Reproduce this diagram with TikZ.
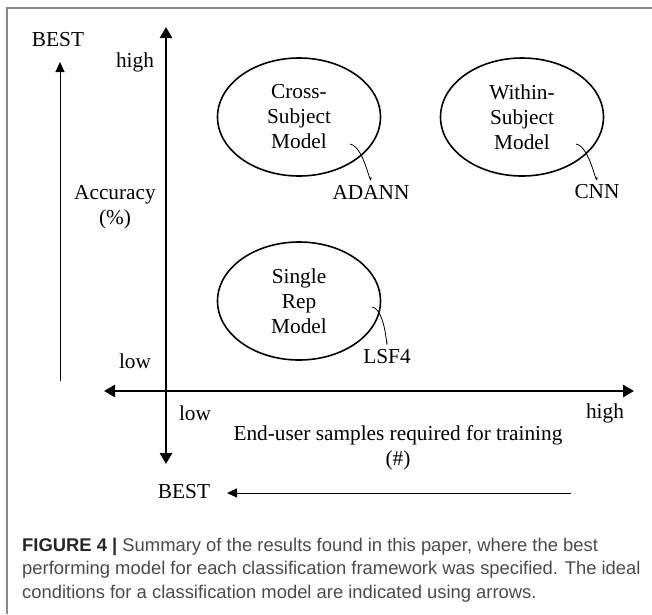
\documentclass[tikz,border=0pt]{standalone}
\usepackage{fontspec}
\setmainfont{Liberation Serif}
\newfontfamily\capfont{Liberation Sans}
\usetikzlibrary{arrows.meta,calc,shapes.geometric}
\definecolor{capgray}{HTML}{4A4A4A}
\definecolor{framegray}{HTML}{8A8A8A}

\begin{document}
\begin{tikzpicture}[
    x=1pt, y=-1pt,
    txt/.style={font=\fontsize{21.3}{25}\selectfont, align=center, inner sep=0},
    model/.style={ellipse, draw, line width=1.6pt, minimum width=163pt, minimum height=118pt, txt},
    axis/.style={line width=2.6pt, {Triangle[length=11pt,width=12pt]}-{Triangle[length=11pt,width=12pt]}},
    bestarrow/.style={line width=1pt, -{Triangle[length=10pt,width=9pt]}},
    link/.style={line width=0.8pt}]
\useasboundingbox (0,0) rectangle (652,614);
\draw[framegray, line width=1.2pt] (7,614) -- (7,8) -- (652,8);

% axes
\draw[axis] (166,464) -- (166,27);
\draw[axis] (104,391) -- (634,391);

% axis labels
\node[txt] (yhigh) at (135,62) {high};
\node[txt] (ylow) at (135,361) {low};
\node[txt] (xlow) at (195,413) {low};
\node[txt] (xhigh) at (605,413) {high};
\node[txt] (ylabel) at (115,207) {Accuracy\\(\%)};
\node[txt] (xlabel) at (398,448) {End-user samples required for training\\(\#)};

% best directions
\node[txt] (besty) at (58,40) {BEST};
\node[txt] (bestx) at (184,492) {BEST};
\coordinate (ytail) at (60,381);
\coordinate (xtail) at (571,493);
\draw[bestarrow] (ytail) -- (60,62) coordinate (yhead);
\draw[bestarrow] (xtail) -- (227,493) coordinate (xhead);

% models
\node[model] (cross) at (299,117) {Cross-\\Subject\\Model};
\node[model] (within) at (522,117) {Within-\\Subject\\Model};
\node[model] (single) at (299,301) {Single\\Rep\\Model};

\node[txt] (adann) at (371,192) {ADANN};
\node[txt] (cnn) at (597,192) {CNN};
\node[txt] (lsf) at (387,357) {LSF4};

\coordinate (crossin) at ($(cross.center)+(51,27)$);
\coordinate (withinin) at ($(within.center)+(54,27)$);
\coordinate (singlein) at ($(single.center)+(73,6)$);
\draw[link] (crossin) to[out=-10,in=-90] ([yshift=8pt]adann.north);
\draw[link] (withinin) to[out=-10,in=-90] ([yshift=8pt]cnn.north);
\draw[link] (singlein) to[out=-10,in=-90] ([yshift=8pt]lsf.north);

% caption
\node[anchor=north west, inner sep=0, align=left, text=capgray,
      font=\capfont\fontsize{18.4}{23.3}\selectfont] (caption) at (22,538)
  {{\bfseries\color{black!85}FIGURE 4 |} Summary of the results found in this paper, where the best\\
   performing model for each classification framework was specified. The ideal\\
   conditions for a classification model are indicated using arrows.};
\end{tikzpicture}
\end{document}
